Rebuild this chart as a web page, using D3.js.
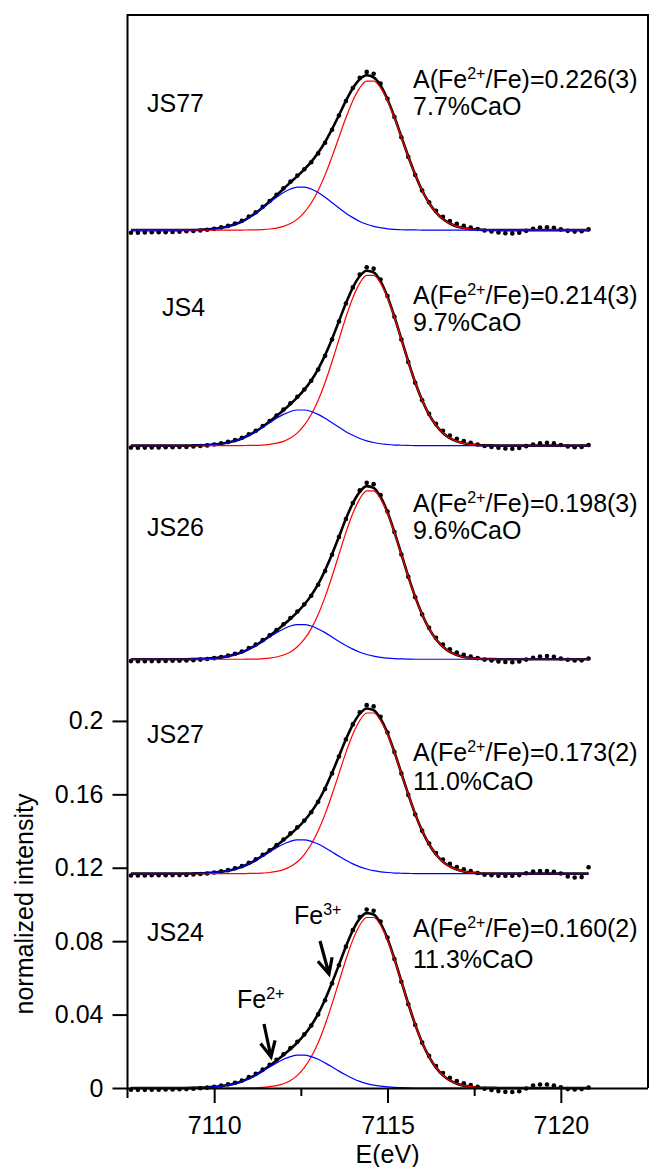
<!DOCTYPE html>
<html>
<head>
<meta charset="utf-8">
<script src="https://cdn.jsdelivr.net/npm/d3@7"></script>
<style>
  body { margin: 0; background: #fff; }
  text { font-family: "Liberation Sans", Arial, sans-serif; fill: #000; }
</style>
</head>
<body>
<svg id="chart" width="649" height="1167"></svg>
<script>
// ---- data ----
var energy = [7107.6,7107.8,7108.0,7108.2,7108.4,7108.6,7108.8,7109.0,7109.2,7109.4,
  7109.6,7109.8,7110.0,7110.2,7110.4,7110.6,7110.8,7111.0,7111.2,7111.4,
  7111.6,7111.8,7112.0,7112.2,7112.4,7112.6,7112.8,7113.0,7113.2,7113.4,
  7113.6,7113.8,7114.0,7114.2,7114.4,7114.6,7114.8,7115.0,7115.2,7115.4,
  7115.6,7115.8,7116.0,7116.2,7116.4,7116.6,7116.8,7117.0,7117.2,7117.4,
  7117.6,7117.8,7118.0,7118.2,7118.4,7118.6,7118.8,7119.0,7119.2,7119.4,
  7119.6,7119.8,7120.0,7120.2,7120.4,7120.6,7120.8];

var samples = ["JS77", "JS4", "JS26", "JS27", "JS24"];
var fe2Area = ["0.226(3)", "0.214(3)", "0.198(3)", "0.173(2)", "0.160(2)"];
var caoText = ["7.7%CaO", "9.7%CaO", "9.6%CaO", "11.0%CaO", "11.3%CaO"];
var offsets = [0.4674, 0.3500, 0.2336, 0.1168, 0];

var yTicks = [0, 0.04, 0.08, 0.12, 0.16, 0.2];
var xTicks = [7110, 7115, 7120];
var xMinorTicks = [7112.5, 7117.5];

// measured points (above each spectrum's offset)
var pointsJS77 = [-0.0014,-0.0014,-0.0013,-0.0012,-0.0012,-0.0011,-0.0010,-0.0009,-0.0006,-0.0005,
  -0.0002,0.0002,0.0007,0.0015,0.0023,0.0036,0.0051,0.0074,0.0097,0.0127,
  0.0159,0.0192,0.0228,0.0264,0.0297,0.0332,0.0370,0.0418,0.0476,0.0547,
  0.0624,0.0703,0.0774,0.0830,0.0862,0.0852,0.0798,0.0716,0.0616,0.0506,
  0.0398,0.0300,0.0216,0.0152,0.0105,0.0072,0.0050,0.0034,0.0023,0.0014,
  0.0006,-0.0002,-0.0007,-0.0013,-0.0017,-0.0018,-0.0014,-0.0004,0.0007,0.0014,
  0.0016,0.0013,0.0004,-0.0004,-0.0008,-0.0006,0.0004];
var pointsJS4 = [-0.0011,-0.0012,-0.0011,-0.0010,-0.0010,-0.0009,-0.0009,-0.0008,-0.0007,-0.0005,
  -0.0002,0.0001,0.0006,0.0012,0.0020,0.0030,0.0043,0.0062,0.0081,0.0107,
  0.0134,0.0164,0.0196,0.0231,0.0266,0.0306,0.0353,0.0414,0.0489,0.0578,
  0.0676,0.0774,0.0862,0.0932,0.0971,0.0964,0.0905,0.0815,0.0702,0.0578,
  0.0455,0.0342,0.0247,0.0173,0.0119,0.0081,0.0055,0.0037,0.0025,0.0015,
  0.0006,-0.0002,-0.0007,-0.0012,-0.0016,-0.0017,-0.0013,-0.0003,0.0006,0.0013,
  0.0015,0.0012,0.0003,-0.0005,-0.0009,-0.0007,0.0003];
var pointsJS26 = [-0.0010,-0.0011,-0.0011,-0.0010,-0.0010,-0.0009,-0.0008,-0.0008,-0.0007,-0.0005,
  -0.0002,0.0001,0.0006,0.0012,0.0020,0.0030,0.0042,0.0061,0.0080,0.0104,
  0.0130,0.0159,0.0191,0.0225,0.0260,0.0299,0.0346,0.0406,0.0481,0.0569,
  0.0666,0.0764,0.0851,0.0920,0.0961,0.0954,0.0894,0.0805,0.0693,0.0571,
  0.0449,0.0338,0.0244,0.0171,0.0117,0.0080,0.0054,0.0037,0.0024,0.0014,
  0.0006,-0.0002,-0.0007,-0.0012,-0.0015,-0.0016,-0.0012,-0.0002,0.0008,0.0015,
  0.0017,0.0013,0.0004,-0.0003,-0.0007,-0.0006,0.0004];
var pointsJS27 = [-0.0010,-0.0010,-0.0010,-0.0009,-0.0009,-0.0009,-0.0008,-0.0008,-0.0007,-0.0005,
  -0.0002,0.0001,0.0006,0.0012,0.0019,0.0029,0.0041,0.0059,0.0078,0.0102,
  0.0127,0.0155,0.0186,0.0219,0.0252,0.0289,0.0334,0.0391,0.0461,0.0546,
  0.0638,0.0731,0.0813,0.0879,0.0918,0.0911,0.0854,0.0769,0.0662,0.0545,
  0.0429,0.0322,0.0233,0.0164,0.0112,0.0077,0.0053,0.0036,0.0024,0.0014,
  0.0003,-0.0006,-0.0009,-0.0011,-0.0012,-0.0011,-0.0008,0.0002,0.0011,0.0014,
  0.0014,0.0010,0.0001,-0.0016,-0.0021,-0.0019,0.0035];
var pointsJS24 = [-0.0009,-0.0010,-0.0010,-0.0009,-0.0009,-0.0008,-0.0008,-0.0007,-0.0006,-0.0004,
  -0.0001,0.0002,0.0007,0.0013,0.0020,0.0029,0.0041,0.0059,0.0077,0.0100,
  0.0127,0.0154,0.0184,0.0217,0.0252,0.0292,0.0340,0.0401,0.0478,0.0570,
  0.0669,0.0770,0.0860,0.0931,0.0972,0.0966,0.0907,0.0820,0.0703,0.0579,
  0.0456,0.0343,0.0247,0.0175,0.0120,0.0082,0.0056,0.0038,0.0026,0.0016,
  0.0006,-0.0004,-0.0011,-0.0017,-0.0021,-0.0022,-0.0018,-0.0003,0.0014,0.0019,
  0.0019,0.0014,0.0004,-0.0006,-0.0008,-0.0006,0.0003];

// fitted Fe3+ component (red)
var fe3JS77 = [0,0,0,0,0,0,0,0,0,0,0,0,0,0,0,0,0,
  0.0001,0.0001,0.0003,0.0006,0.0011,0.0020,0.0036,0.0060,0.0097,0.0148,0.0216,0.0301,0.0400,0.0506,0.0612,0.0705,0.0775,0.0812,
  0.0812,0.0775,0.0705,0.0612,0.0506,0.0400,0.0301,0.0216,0.0148,0.0097,0.0060,0.0036,0.0020,0.0011,0.0006,0.0003,0.0001,0.0001,
  0,0,0,0,0,0,0,0,0,0,0,0,0,0];
var fe3JS4 = [0,0,0,0,0,0,0,0,0,0,0,0,0,0,0,0,0,
  0.0001,0.0001,0.0003,0.0007,0.0013,0.0023,0.0041,0.0069,0.0111,0.0169,0.0247,0.0344,0.0457,0.0578,0.0699,0.0805,0.0885,0.0927,
  0.0927,0.0885,0.0805,0.0699,0.0578,0.0457,0.0344,0.0247,0.0169,0.0111,0.0069,0.0041,0.0023,0.0013,0.0007,0.0003,0.0001,0.0001,
  0,0,0,0,0,0,0,0,0,0,0,0,0,0];
var fe3JS26 = [0,0,0,0,0,0,0,0,0,0,0,0,0,0,0,0,0,
  0.0001,0.0001,0.0003,0.0006,0.0012,0.0023,0.0040,0.0068,0.0109,0.0167,0.0244,0.0340,0.0451,0.0571,0.0690,0.0795,0.0874,0.0917,
  0.0917,0.0874,0.0795,0.0690,0.0571,0.0451,0.0340,0.0244,0.0167,0.0109,0.0068,0.0040,0.0023,0.0012,0.0006,0.0003,0.0001,0.0001,
  0,0,0,0,0,0,0,0,0,0,0,0,0,0];
var fe3JS27 = [0,0,0,0,0,0,0,0,0,0,0,0,0,0,0,0,0,
  0.0001,0.0001,0.0003,0.0006,0.0012,0.0022,0.0039,0.0065,0.0104,0.0160,0.0233,0.0324,0.0431,0.0545,0.0659,0.0759,0.0834,0.0875,
  0.0875,0.0834,0.0759,0.0659,0.0545,0.0431,0.0324,0.0233,0.0160,0.0104,0.0065,0.0039,0.0022,0.0012,0.0006,0.0003,0.0001,0.0001,
  0,0,0,0,0,0,0,0,0,0,0,0,0,0];
var fe3JS24 = [0,0,0,0,0,0,0,0,0,0,0,0,0,0,0,0,0,
  0.0001,0.0001,0.0003,0.0007,0.0013,0.0023,0.0041,0.0069,0.0111,0.0170,0.0247,0.0345,0.0458,0.0579,0.0700,0.0807,0.0887,0.0929,
  0.0929,0.0887,0.0807,0.0700,0.0579,0.0458,0.0345,0.0247,0.0170,0.0111,0.0069,0.0041,0.0023,0.0013,0.0007,0.0003,0.0001,0.0001,
  0,0,0,0,0,0,0,0,0,0,0,0,0,0];

// fitted Fe2+ component (blue)
var fe2JS77 = [0,0,0,0,0,0,0,0,
  0.0001,0.0001,0.0002,0.0004,0.0007,0.0013,0.0020,0.0032,0.0047,0.0068,0.0092,0.0120,0.0150,0.0179,0.0205,0.0224,0.0234,
  0.0234,0.0224,0.0205,0.0179,0.0150,0.0120,0.0092,0.0068,0.0047,0.0032,0.0020,0.0013,0.0007,0.0004,0.0002,0.0001,0.0001,
  0,0,0,0,0,0,0,0,0,0,0,0,0,0,0,0,0,0,0,0,0,0,0,0,0];
var fe2JS4 = [0,0,0,0,0,0,0,0,0,
  0.0001,0.0002,0.0003,0.0006,0.0010,0.0017,0.0026,0.0039,0.0056,0.0076,0.0100,0.0124,0.0149,0.0170,0.0186,0.0194,
  0.0194,0.0186,0.0170,0.0149,0.0124,0.0100,0.0076,0.0056,0.0039,0.0026,0.0017,0.0010,0.0006,0.0003,0.0002,0.0001,
  0,0,0,0,0,0,0,0,0,0,0,0,0,0,0,0,0,0,0,0,0,0,0,0,0,0];
var fe2JS26 = [0,0,0,0,0,0,0,0,0,
  0.0001,0.0002,0.0003,0.0006,0.0010,0.0017,0.0026,0.0038,0.0055,0.0075,0.0097,0.0121,0.0145,0.0165,0.0181,0.0189,
  0.0189,0.0181,0.0165,0.0145,0.0121,0.0097,0.0075,0.0055,0.0038,0.0026,0.0017,0.0010,0.0006,0.0003,0.0002,0.0001,
  0,0,0,0,0,0,0,0,0,0,0,0,0,0,0,0,0,0,0,0,0,0,0,0,0,0];
var fe2JS27 = [0,0,0,0,0,0,0,0,0,
  0.0001,0.0002,0.0003,0.0006,0.0010,0.0016,0.0025,0.0037,0.0053,0.0073,0.0095,0.0118,0.0141,0.0161,0.0176,0.0184,
  0.0184,0.0176,0.0161,0.0141,0.0118,0.0095,0.0073,0.0053,0.0037,0.0025,0.0016,0.0010,0.0006,0.0003,0.0002,0.0001,
  0,0,0,0,0,0,0,0,0,0,0,0,0,0,0,0,0,0,0,0,0,0,0,0,0,0];
var fe2JS24 = [0,0,0,0,0,0,0,0,0,
  0.0001,0.0002,0.0003,0.0006,0.0010,0.0016,0.0024,0.0036,0.0052,0.0071,0.0092,0.0115,0.0137,0.0157,0.0171,0.0179,
  0.0179,0.0171,0.0157,0.0137,0.0115,0.0092,0.0071,0.0052,0.0036,0.0024,0.0016,0.0010,0.0006,0.0003,0.0002,0.0001,
  0,0,0,0,0,0,0,0,0,0,0,0,0,0,0,0,0,0,0,0,0,0,0,0,0,0];

var pointsAll = [pointsJS77, pointsJS4, pointsJS26, pointsJS27, pointsJS24];
var fe3All = [fe3JS77, fe3JS4, fe3JS26, fe3JS27, fe3JS24];
var fe2All = [fe2JS77, fe2JS4, fe2JS26, fe2JS27, fe2JS24];

// ---- layout ----
var FS = 25, SUP = 16;
var nameLabelPos = [[147, 112], [162, 316], [147, 536], [147, 743], [147, 941]];
var infoPos = [[413, 88, 115], [413, 304, 331], [413, 512, 539], [413, 761, 790], [413, 937, 968]];
var arrows = [
  { sup: "3+", tx: 294, ty: 924, from: [320, 941], to: [329, 974] },
  { sup: "2+", tx: 237, ty: 1008, from: [264, 1024], to: [271, 1057] }
];

var svg = d3.select("#chart");
var x = d3.scaleLinear().domain([7107.5, 7122.5]).range([127.5, 647.5]);
var y = d3.scaleLinear().domain([0, 0.5846]).range([1088, 15]);

samples.forEach(function (s, i) {
  if (pointsAll[i].length != energy.length || fe3All[i].length != energy.length || fe2All[i].length != energy.length)
    console.error("length mismatch " + s);
});

var line = d3.line()
  .x(function (d) { return x(d[0]); })
  .y(function (d) { return y(d[1]); })
  .curve(d3.curveMonotoneX);

var spectra = svg.append("g").attr("class", "spectra");

samples.forEach(function (name, i) {
  var off = offsets[i];
  var g = spectra.append("g").attr("class", "spec-" + name);
  var pts = energy.map(function (e, k) { return [e, off + pointsAll[i][k]]; });
  var fit = energy.map(function (e, k) { return [e, off + fe3All[i][k] + fe2All[i][k]]; });
  var red = energy.map(function (e, k) { return [e, off + fe3All[i][k]]; });
  var blue = energy.map(function (e, k) { return [e, off + fe2All[i][k]]; });

  g.selectAll("circle").data(pts).enter().append("circle")
    .attr("cx", function (d) { return x(d[0]); })
    .attr("cy", function (d) { return y(d[1]); })
    .attr("r", 2.3)
    .attr("fill", "#000");

  g.append("path").attr("d", line(fit)).attr("fill", "none")
    .attr("stroke", "#000").attr("stroke-width", 2.6);
  g.append("path").attr("d", line(red)).attr("fill", "none")
    .attr("stroke", "#ff0000").attr("stroke-width", 1.2);
  g.append("path").attr("d", line(blue)).attr("fill", "none")
    .attr("stroke", "#0000ff").attr("stroke-width", 1.2);

  svg.append("text").attr("x", nameLabelPos[i][0]).attr("y", nameLabelPos[i][1])
    .style("font-size", FS + "px").text(name);

  var t = svg.append("text").attr("x", infoPos[i][0]).attr("y", infoPos[i][1])
    .style("font-size", FS + "px");
  t.append("tspan").text("A(Fe");
  t.append("tspan").attr("dy", -9).style("font-size", SUP + "px").text("2+");
  t.append("tspan").attr("dy", 9).text("/Fe)=" + fe2Area[i]);
  svg.append("text").attr("x", infoPos[i][0]).attr("y", infoPos[i][2])
    .style("font-size", FS + "px").text(caoText[i]);
});

// arrows marking the Fe3+ and Fe2+ contributions
arrows.forEach(function (a) {
  var t = svg.append("text").attr("x", a.tx).attr("y", a.ty).style("font-size", FS + "px");
  t.append("tspan").text("Fe");
  t.append("tspan").attr("dy", -9).style("font-size", SUP + "px").text(a.sup);

  var dx = a.to[0] - a.from[0], dy = a.to[1] - a.from[1];
  var ang = Math.atan2(dy, dx), wl = 17, spread = 0.45;
  var w1 = [a.to[0] - wl * Math.cos(ang - spread), a.to[1] - wl * Math.sin(ang - spread)];
  var w2 = [a.to[0] - wl * Math.cos(ang + spread), a.to[1] - wl * Math.sin(ang + spread)];
  svg.append("path")
    .attr("d", "M" + a.from + "L" + a.to + "M" + w1 + "L" + a.to + "L" + w2)
    .attr("fill", "none").attr("stroke", "#000").attr("stroke-width", 3.2)
    .attr("stroke-linejoin", "miter");
});

// axes
var yAxis = d3.axisLeft(y).tickValues(yTicks).tickSize(15).tickSizeOuter(0).tickPadding(9)
  .tickFormat(function (d) { return String(+d.toFixed(2)); });
var gy = svg.append("g").attr("transform", "translate(127.5,0)").call(yAxis);
gy.select(".domain").remove();

var xAxis = d3.axisBottom(x).tickValues(xTicks).tickSize(15).tickSizeOuter(0).tickPadding(13)
  .tickFormat(d3.format("d"));
var gx = svg.append("g").attr("transform", "translate(0,1088)").call(xAxis);
var gxm = svg.append("g").attr("transform", "translate(0,1088)")
  .call(d3.axisBottom(x).tickValues(xMinorTicks).tickSize(8).tickSizeOuter(0).tickFormat(""));
gxm.select(".domain").remove();

svg.selectAll(".tick line, .domain").attr("stroke", "#000").attr("stroke-width", 2);
svg.selectAll(".tick text").style("font-size", FS + "px").attr("fill", "#000")
  .style("font-family", "Liberation Sans, Arial, sans-serif");

// frame
svg.append("path")
  .attr("d", "M127.5,1098V15H648V1088")
  .attr("fill", "none").attr("stroke", "#000").attr("stroke-width", 2);

// axis titles
svg.append("text").attr("transform", "translate(33,904) rotate(-90)")
  .attr("text-anchor", "middle").style("font-size", FS + "px").text("normalized intensity");
svg.append("text").attr("x", 387.5).attr("y", 1163)
  .attr("text-anchor", "middle").style("font-size", FS + "px").text("E(eV)");
</script>
</body>
</html>
